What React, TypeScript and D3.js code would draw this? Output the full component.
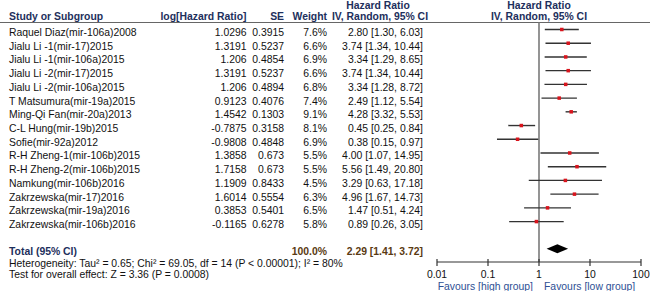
import React from "react";
import * as d3 from "d3";

const studies = [
  "Raquel Diaz(mir-106a)2008",
  "Jialu Li -1(mir-17)2015",
  "Jialu Li -1(mir-106a)2015",
  "Jialu Li -2(mir-17)2015",
  "Jialu Li -2(mir-106a)2015",
  "T Matsumura(mir-19a)2015",
  "Ming-Qi Fan(mir-20a)2013",
  "C-L Hung(mir-19b)2015",
  "Sofie(mir-92a)2012",
  "R-H Zheng-1(mir-106b)2015",
  "R-H Zheng-2(mir-106b)2015",
  "Namkung(mir-106b)2016",
  "Zakrzewska(mir-17)2016",
  "Zakrzewska(mir-19a)2016",
  "Zakrzewska(mir-106b)2016",
];
const logHR = ["1.0296", "1.3191", "1.206", "1.3191", "1.206", "0.9123", "1.4542", "-0.7875", "-0.9808", "1.3858", "1.7158", "1.1909", "1.6014", "0.3853", "-0.1165"];
const seVals = ["0.3915", "0.5237", "0.4854", "0.5237", "0.4894", "0.4076", "0.1303", "0.3158", "0.4848", "0.673", "0.673", "0.8433", "0.5554", "0.5401", "0.6278"];
const weights = ["7.6%", "6.6%", "6.9%", "6.6%", "6.8%", "7.4%", "9.1%", "8.1%", "6.9%", "5.5%", "5.5%", "4.5%", "6.3%", "6.5%", "5.8%"];
const hr = [2.8, 3.74, 3.34, 3.74, 3.34, 2.49, 4.28, 0.45, 0.38, 4.0, 5.56, 3.29, 4.96, 1.47, 0.89];
const lower = [1.3, 1.34, 1.29, 1.34, 1.28, 1.12, 3.32, 0.25, 0.15, 1.07, 1.49, 0.63, 1.67, 0.51, 0.26];
const upper = [6.03, 10.44, 8.65, 10.44, 8.72, 5.54, 5.53, 0.84, 0.97, 14.95, 20.8, 17.18, 14.73, 4.24, 3.05];
const total = { hr: 2.29, lower: 1.41, upper: 3.72, weight: "100.0%" };
const tickValues = [0.01, 0.1, 1, 10, 100];
const tickLabels = ["0.01", "0.1", "1", "10", "100"];
const heterogeneity = "Heterogeneity: Tau² = 0.65; Chi² = 69.05, df = 14 (P < 0.00001); I² = 80%";
const overallTest = "Test for overall effect: Z = 3.36 (P = 0.0008)";

const fmt = (v: number) => v.toFixed(2);

export default function App() {
  const W = 650, H = 291;
  const x = d3.scaleLog().domain([0.01, 100]).range([437, 641]);
  const rowY = d3.scaleLinear().domain([0, 1]).range([29.5, 29.5 + 13.72]);
  const totalY = 248.7;
  const axisY = 262;
  const font = "Arial, 'Liberation Sans', sans-serif";
  const fs = 10.4;
  const navy = "#1d2f5c";
  const brown = "#5a3a12";
  const blue = "#2e4f94";
  const txt = "#111";

  return (
    <svg width={W} height={H} style={{ position: "absolute", left: 0, top: 0 }} fontFamily={font} fontSize={fs}>
      <rect width={W} height={H} fill="#fff" />
      {/* headers */}
      <g fontWeight="bold" fill={navy}>
        <text x={378} y={8.5} textAnchor="middle">Hazard Ratio</text>
        <text x={539} y={8.5} textAnchor="middle">Hazard Ratio</text>
        <text x={9} y={19.5}>Study or Subgroup</text>
        <text x={246.5} y={19.5} textAnchor="end">log[Hazard Ratio]</text>
        <text x={284} y={19.5} textAnchor="end">SE</text>
        <text x={327} y={19.5} textAnchor="end">Weight</text>
        <text x={380} y={19.5} textAnchor="middle">IV, Random, 95% CI</text>
        <text x={539} y={19.5} textAnchor="middle">IV, Random, 95% CI</text>
      </g>
      <line x1={0} x2={W} y1={22.5} y2={22.5} stroke="#666" strokeWidth={1.2} />
      {/* null line */}
      <line x1={x(1)} x2={x(1)} y1={22.5} y2={axisY} stroke="#7a7a7a" strokeWidth={1.6} />
      {/* rows */}
      {studies.map((s, i) => {
        const y = rowY(i);
        const ty = y + 6.5;
        return (
          <g key={s}>
            <text x={9} y={ty} fill={txt}>{s}</text>
            <text x={246.5} y={ty} textAnchor="end" fill={txt}>{logHR[i]}</text>
            <text x={284} y={ty} textAnchor="end" fill={txt}>{seVals[i]}</text>
            <text x={327} y={ty} textAnchor="end" fill={txt}>{weights[i]}</text>
            <text x={423} y={ty} textAnchor="end" fill={txt}>{`${fmt(hr[i])} [${fmt(lower[i])}, ${fmt(upper[i])}]`}</text>
            <line x1={x(lower[i])} x2={x(upper[i])} y1={y} y2={y} stroke="#333" strokeWidth={1.4} />
            <rect x={x(hr[i]) - 1.75} y={y - 1.75} width={3.5} height={3.5} fill="#d8141c" />
          </g>
        );
      })}
      {/* total */}
      <text x={9} y={totalY + 6.5} fontWeight="bold" fill={navy}>Total (95% CI)</text>
      <text x={327} y={totalY + 6.5} textAnchor="end" fontWeight="bold" fill={brown}>{total.weight}</text>
      <text x={423} y={totalY + 6.5} textAnchor="end" fontWeight="bold" fill={brown}>{`${fmt(total.hr)} [${fmt(total.lower)}, ${fmt(total.upper)}]`}</text>
      <path
        d={`M${x(total.lower)},${totalY} L${x(total.hr)},${totalY - 4.5} L${x(total.upper)},${totalY} L${x(total.hr)},${totalY + 4.5} Z`}
        fill="#000"
      />
      <text x={9} y={266.7} fill={txt}>{heterogeneity}</text>
      <text x={9} y={278.3} fill={txt}>{overallTest}</text>
      {/* axis */}
      <line x1={x(0.01)} x2={x(100)} y1={axisY} y2={axisY} stroke="#333" strokeWidth={1.2} />
      {tickValues.map((t, i) => (
        <g key={t}>
          <line x1={x(t)} x2={x(t)} y1={axisY - 3} y2={axisY + 4} stroke="#333" strokeWidth={1.2} />
          <text x={x(t)} y={277.5} textAnchor="middle" fill={txt}>{tickLabels[i]}</text>
        </g>
      ))}
      <text x={533} y={289.5} textAnchor="end" fill={blue}>Favours [high group]</text>
      <text x={544} y={289.5} fill={blue}>Favours [low group]</text>
    </svg>
  );
}
